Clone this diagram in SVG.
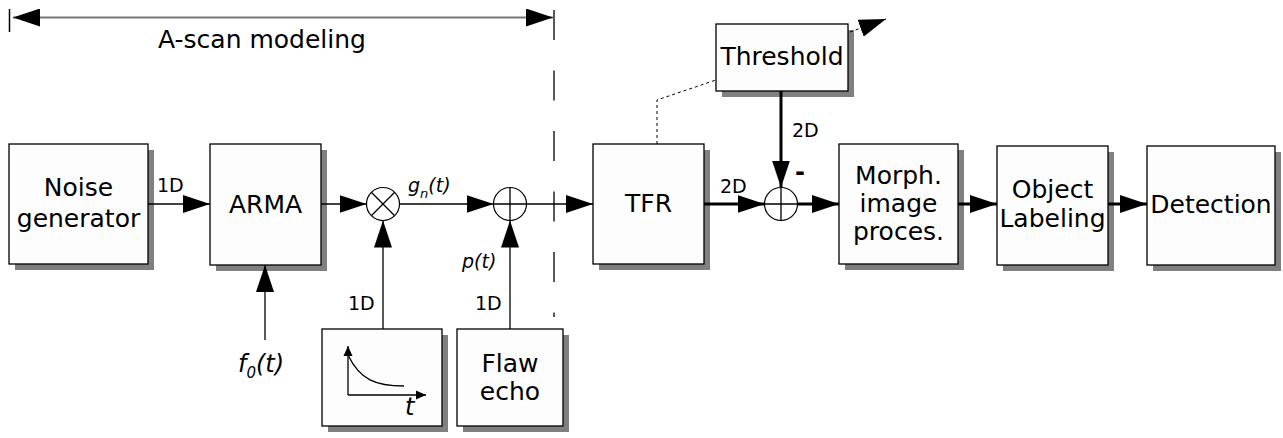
<svg xmlns="http://www.w3.org/2000/svg" width="1283" height="438" viewBox="0 0 1283 438">
<style>
.box{fill:#fdfdfd;stroke:#000;stroke-width:1.3}
.sh{fill:#808080}
.lbl{font-family:"DejaVu Sans",sans-serif;font-size:25px;fill:#000;text-anchor:middle}
.sm{font-family:"DejaVu Sans",sans-serif;font-size:19px;fill:#000}
.it{font-family:"DejaVu Sans",sans-serif;font-style:italic;fill:#000}
.thin{fill:none;stroke:#000;stroke-width:1.3}
.thick{fill:none;stroke:#000;stroke-width:3}
.sum{fill:#fff;stroke:#000;stroke-width:1.2}
</style>
<defs>
<marker id="ah" markerUnits="userSpaceOnUse" markerWidth="27" markerHeight="18" refX="27" refY="9" orient="auto"><path d="M0,0 L27,9 L0,18 Z" fill="#000"/></marker>
<marker id="ahs" markerUnits="userSpaceOnUse" markerWidth="27" markerHeight="18" refX="27" refY="9" orient="auto-start-reverse"><path d="M0,0 L27,9 L0,18 Z" fill="#000"/></marker>
<marker id="sa" markerUnits="userSpaceOnUse" markerWidth="10" markerHeight="10" refX="10" refY="5" orient="auto"><path d="M0,0.5 L10,5 L0,9.5 Z" fill="#000"/></marker>
</defs>

<g id="span">
<path d="M9.5,9 V32" stroke="#000" stroke-width="1.5"/>
<path d="M13,17.5 H553" stroke="#777" stroke-width="2" fill="none" marker-start="url(#ahs)" marker-end="url(#ahs)"/>
<path d="M554,10 V317" stroke="#000" stroke-width="1.3" stroke-dasharray="30,30.5"/>
<text x="158" y="48" style="font-family:'DejaVu Sans',sans-serif;font-size:25px">A-scan modeling</text>
</g>

<g id="noise">
<rect class="sh" x="15" y="150" width="139" height="120"/>
<rect class="box" x="9" y="144" width="139" height="120"/>
<text class="lbl" x="78.5" y="196">Noise</text>
<text class="lbl" x="78.5" y="227">generator</text>
</g>
<g id="arma">
<rect class="sh" x="216" y="150" width="111" height="121"/>
<rect class="box" x="210" y="144" width="111" height="121"/>
<text class="lbl" x="265.5" y="213">ARMA</text>
</g>
<g id="decay">
<rect class="sh" x="328" y="335" width="120" height="97"/>
<rect class="box" x="322" y="329" width="120" height="97"/>
<path d="M348,395 V346" class="thin" marker-end="url(#sa)"/>
<path d="M348,395 H426" class="thin" marker-end="url(#sa)"/>
<path d="M348,355 C360,380 376,386 404,386" class="thin" stroke-width="1.1"/>
<text class="it" x="405" y="415" font-size="24">t</text>
</g>
<g id="flaw">
<rect class="sh" x="463" y="335" width="106" height="97"/>
<rect class="box" x="457" y="329" width="106" height="97"/>
<text class="lbl" x="510" y="372">Flaw</text>
<text class="lbl" x="510" y="400">echo</text>
</g>
<g id="mult">
<circle class="sum" cx="383" cy="204" r="16.5"/>
<path d="M371.3,192.3 L394.7,215.7 M394.7,192.3 L371.3,215.7" class="thin" stroke-width="1.1"/>
</g>
<g id="adder1">
<circle class="sum" cx="510" cy="204" r="16.5"/>
<path d="M493.5,204 H526.5 M510,187.5 V220.5" class="thin" stroke-width="1.1"/>
</g>
<g id="tfr">
<rect class="sh" x="599" y="150" width="111" height="120"/>
<rect class="box" x="593" y="144" width="111" height="120"/>
<text class="lbl" x="648.5" y="212">TFR</text>
</g>
<g id="threshold">
<rect class="sh" x="722" y="30" width="132" height="67"/>
<rect class="box" x="716" y="24" width="132" height="67"/>
<text class="lbl" x="782" y="65">Threshold</text>
</g>
<g id="adder2">
<circle class="sum" cx="781" cy="204" r="16.5"/>
<path d="M764.5,204 H797.5 M781,187.5 V220.5" class="thin" stroke-width="1.1"/>
</g>
<g id="morph">
<rect class="sh" x="845" y="150" width="119" height="120"/>
<rect class="box" x="839" y="144" width="119" height="120"/>
<text class="lbl" x="898.5" y="184">Morph.</text>
<text class="lbl" x="898.5" y="212">image</text>
<text class="lbl" x="898.5" y="240">proces.</text>
</g>
<g id="object">
<rect class="sh" x="1003" y="152" width="111" height="119"/>
<rect class="box" x="997" y="146" width="111" height="119"/>
<text class="lbl" x="1052.5" y="198">Object</text>
<text class="lbl" x="1052.5" y="227">Labeling</text>
</g>
<g id="detection">
<rect class="sh" x="1153" y="152" width="128" height="119"/>
<rect class="box" x="1147" y="146" width="128" height="119"/>
<text class="lbl" x="1211" y="213">Detection</text>
</g>

<g id="connectors">
<path d="M148,204 H210" class="thin" marker-end="url(#ah)"/>
<text class="sm" x="157" y="192">1D</text>
<path d="M321,204 H366.5" class="thin" marker-end="url(#ah)"/>
<path d="M399.5,204 H493.5" class="thin" marker-end="url(#ah)"/>
<text class="it" x="408" y="192" font-size="19">g<tspan font-size="13" dy="6">n</tspan><tspan font-size="19" dy="-6">(t)</tspan></text>
<path d="M526.5,204 H593" class="thin" marker-end="url(#ah)"/>
<path d="M383,329 V220.5" class="thin" marker-end="url(#ah)"/>
<text class="sm" x="348" y="310">1D</text>
<path d="M510,329 V220.5" class="thin" marker-end="url(#ah)"/>
<text class="sm" x="475" y="310">1D</text>
<text class="it" x="462" y="268" font-size="19">p(t)</text>
<path d="M265,340 V265" class="thin" marker-end="url(#ah)"/>
<text class="it" x="238" y="372" font-size="24">f<tspan font-size="15" dy="6">0</tspan><tspan font-size="24" dy="-6">(t)</tspan></text>
<path d="M704,204 H764.5" class="thick" marker-end="url(#ah)"/>
<text class="sm" x="720" y="193">2D</text>
<path d="M781,91 V187.5" class="thick" marker-end="url(#ah)"/>
<text class="sm" x="792" y="137">2D</text>
<text x="800" y="180" style="font-family:'DejaVu Sans',sans-serif;font-size:24px;font-weight:bold;text-anchor:middle">-</text>
<path d="M797.5,204 H839" class="thick" marker-end="url(#ah)"/>
<path d="M958,204 H997" class="thick" marker-end="url(#ah)"/>
<path d="M1108,204 H1147" class="thick" marker-end="url(#ah)"/>
<path d="M657,144 V100 L716,80" fill="none" stroke="#000" stroke-width="1" stroke-dasharray="3,3"/>
<path d="M850,32 L886,19" fill="none" stroke="#000" stroke-width="1" stroke-dasharray="3,3" marker-end="url(#ah)"/>
</g>
</svg>
